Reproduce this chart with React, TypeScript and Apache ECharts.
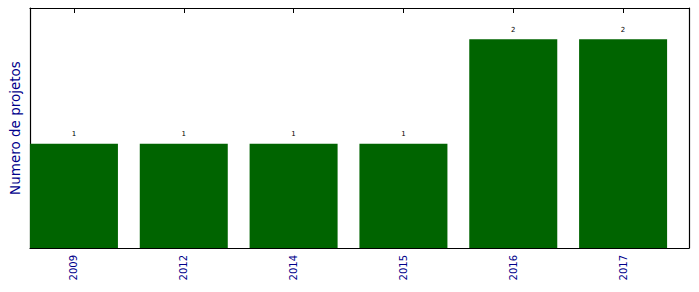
import React, { useEffect, useRef } from "react";
import * as echarts from "echarts";

const categories = ["2009", "2012", "2014", "2015", "2016", "2017"];
const values = [1, 1, 1, 1, 2, 2];
const yLabel = "Numero de projetos";

export default function App() {
  const ref = useRef<HTMLDivElement>(null);
  useEffect(() => {
    if (!ref.current) return;
    const chart = echarts.init(ref.current, null, { renderer: "svg" });
    const idx = categories.map((_, i) => i);
    const font = "DejaVu Sans";
    const blue = "#00008B";
    const line = { color: "#000", width: 1.2 };
    chart.setOption({
      animation: false,
      grid: { left: 30, right: 10, top: 8, bottom: 44, containLabel: false, outerBoundsMode: "none" },
      xAxis: [
        {
          type: "value",
          min: -0.4,
          max: 5.6,
          position: "bottom",
          splitLine: { show: false },
          axisLine: { show: true, onZero: false, lineStyle: line },
          axisTick: { show: true, inside: true, length: 5, customValues: idx, lineStyle: { color: "#000" } },
          axisLabel: {
            customValues: idx,
            rotate: 90,
            margin: 7,
            color: blue,
            fontFamily: font,
            fontSize: 10,
            formatter: (v: number) => categories[Math.round(v)] ?? "",
          },
        },
        {
          type: "value",
          min: -0.4,
          max: 5.6,
          position: "top",
          splitLine: { show: false },
          axisLine: { show: true, onZero: false, lineStyle: line },
          axisTick: { show: true, inside: true, length: 5, customValues: idx, lineStyle: { color: "#000" } },
          axisLabel: { show: false },
        },
      ],
      yAxis: [
        {
          type: "value",
          min: 0,
          max: 2.3,
          position: "left",
          name: yLabel,
          nameLocation: "middle",
          nameGap: 8,
          nameTextStyle: { color: blue, fontFamily: font, fontSize: 13.5 },
          splitLine: { show: false },
          axisLine: { show: true, onZero: false, lineStyle: line },
          axisTick: { show: false },
          axisLabel: { show: false },
        },
        {
          type: "value",
          min: 0,
          max: 2.3,
          position: "right",
          splitLine: { show: false },
          axisLine: { show: true, onZero: false, lineStyle: line },
          axisTick: { show: false },
          axisLabel: { show: false },
        },
      ],
      series: [
        {
          type: "bar",
          xAxisIndex: 0,
          yAxisIndex: 0,
          barWidth: 88,
          data: values.map((v, i) => [i, v]),
          itemStyle: { color: "#006400" },
          label: {
            show: true,
            position: "top",
            distance: 6,
            color: "#000",
            fontFamily: font,
            fontSize: 7,
          },
        },
      ],
    });
    return () => chart.dispose();
  }, []);
  return <div ref={ref} style={{ width: 699, height: 292, position: "absolute", left: 0, top: 0 }} />;
}
